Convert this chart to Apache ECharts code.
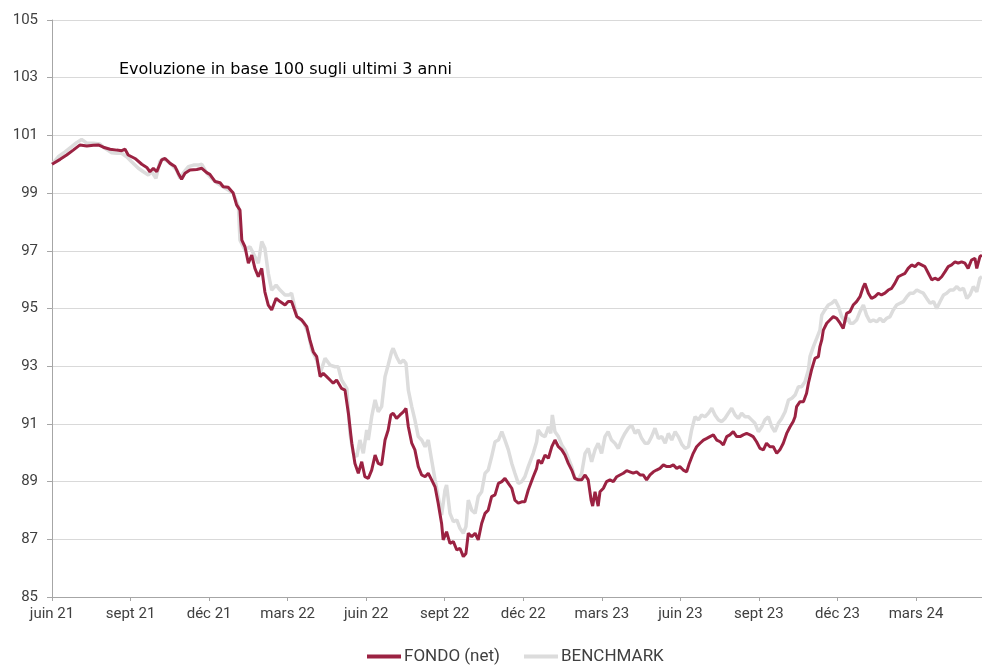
<!DOCTYPE html>
<html><head><meta charset="utf-8">
<script src="https://cdn.jsdelivr.net/npm/echarts@6/dist/echarts.min.js"></script>
<style>html,body{margin:0;padding:0;background:#fff}#c{width:982px;height:666px}</style>
</head><body><div id="c"></div>
<script>
// x = months since June 2021
const tickLabels = ['juin 21','sept 21','déc 21','mars 22','juin 22','sept 22','déc 22','mars 23','juin 23','sept 23','déc 23','mars 24'];
const titleText = 'Evoluzione in base 100 sugli ultimi 3 anni';
const seriesNames = ['FONDO (net)','BENCHMARK'];

const fondoX = [0,0.31,0.56,0.81,1.07,1.33,1.58,1.77,1.96,2.22,2.47,2.66,2.79,2.91,3.17,3.43,3.62,3.74,3.87,4.00,4.19,4.32,4.51,4.70,4.82,4.95,5.08,5.27,5.53,5.72,5.91,6.03,6.23,6.42,6.54,6.73,6.92,7.05,7.18,7.25,7.37,7.50,7.63,7.75,7.88,8.01,8.13,8.26,8.39,8.56,8.71,8.90,9.02,9.15,9.35,9.54,9.73,9.85,9.98,10.11,10.24,10.36,10.49,10.62,10.74,10.87,11.06,11.19,11.32,11.45,11.57,11.70,11.83,11.95,12.08,12.21,12.34,12.46,12.59,12.72,12.84,12.94,13.03,13.16,13.29,13.42,13.52,13.61,13.74,13.86,13.99,14.12,14.25,14.37,14.50,14.63,14.75,14.88,14.94,15.07,15.20,15.33,15.46,15.58,15.71,15.81,15.90,16.03,16.16,16.28,16.41,16.54,16.66,16.79,16.92,17.05,17.18,17.30,17.43,17.56,17.68,17.81,17.94,18.06,18.19,18.38,18.51,18.57,18.70,18.83,18.96,19.09,19.21,19.34,19.47,19.59,19.72,19.85,19.97,20.10,20.23,20.36,20.48,20.59,20.65,20.74,20.86,20.93,21.06,21.18,21.31,21.44,21.57,21.69,21.82,21.95,22.07,22.20,22.33,22.46,22.58,22.71,22.84,22.97,23.09,23.22,23.35,23.48,23.60,23.73,23.86,23.98,24.11,24.24,24.34,24.49,24.62,24.75,24.88,25.01,25.13,25.26,25.39,25.52,25.64,25.77,25.89,26.02,26.15,26.28,26.40,26.53,26.66,26.78,26.91,27.04,27.17,27.29,27.42,27.55,27.68,27.80,27.93,28.06,28.19,28.31,28.38,28.44,28.57,28.70,28.82,28.89,29.01,29.14,29.27,29.33,29.40,29.46,29.59,29.71,29.84,29.97,30.10,30.22,30.35,30.48,30.60,30.73,30.86,30.99,31.05,31.18,31.30,31.43,31.56,31.68,31.81,31.94,32.07,32.19,32.32,32.45,32.58,32.70,32.83,32.96,33.08,33.21,33.34,33.47,33.60,33.72,33.85,33.98,34.11,34.23,34.36,34.49,34.61,34.74,34.87,34.99,35.12,35.25,35.32,35.44,35.52];
const fondoY = [100.0,100.17,100.32,100.49,100.67,100.63,100.66,100.67,100.59,100.52,100.49,100.47,100.52,100.32,100.2,100.0,99.89,99.74,99.86,99.74,100.15,100.2,100.03,99.92,99.69,99.48,99.69,99.8,99.82,99.86,99.71,99.65,99.4,99.36,99.22,99.2,99.0,98.59,98.41,97.37,97.14,96.57,96.85,96.39,96.1,96.39,95.58,95.12,94.95,95.35,95.24,95.12,95.24,95.24,94.72,94.6,94.37,93.91,93.5,93.33,92.64,92.75,92.64,92.52,92.41,92.52,92.23,92.17,91.37,90.33,89.63,89.29,89.69,89.17,89.11,89.4,89.92,89.63,89.58,90.44,90.79,91.31,91.37,91.19,91.31,91.42,91.54,90.9,90.33,90.1,89.52,89.23,89.17,89.29,89.06,88.82,88.25,87.55,86.98,87.26,86.86,86.92,86.63,86.69,86.4,86.51,87.21,87.09,87.21,86.98,87.55,87.9,88.01,88.48,88.54,88.94,89.0,89.11,88.94,88.77,88.36,88.25,88.3,88.3,88.71,89.17,89.46,89.75,89.63,89.92,89.81,90.21,90.44,90.21,90.1,89.92,89.63,89.4,89.11,89.06,89.06,89.23,89.06,88.36,88.15,88.65,88.15,88.65,88.77,89.0,89.06,89.0,89.17,89.23,89.29,89.38,89.34,89.29,89.34,89.23,89.23,89.06,89.23,89.34,89.4,89.46,89.58,89.52,89.52,89.58,89.46,89.52,89.4,89.34,89.63,89.98,90.21,90.33,90.44,90.5,90.56,90.62,90.44,90.38,90.27,90.56,90.62,90.73,90.56,90.56,90.62,90.67,90.62,90.56,90.38,90.15,90.1,90.33,90.21,90.21,89.98,90.1,90.33,90.67,90.9,91.08,91.25,91.6,91.77,91.77,92.06,92.41,92.87,93.27,93.33,93.68,93.91,94.25,94.49,94.6,94.72,94.66,94.49,94.31,94.83,94.89,95.12,95.24,95.41,95.76,95.87,95.53,95.35,95.41,95.53,95.47,95.53,95.64,95.7,95.87,96.1,96.16,96.22,96.39,96.51,96.45,96.57,96.51,96.45,96.22,95.99,96.05,95.99,96.1,96.28,96.45,96.51,96.62,96.57,96.62,96.57,96.39,96.68,96.74,96.39,96.8,96.85];

const benchX = [0,0.24,0.50,0.75,0.94,1.13,1.33,1.58,1.83,2.02,2.28,2.47,2.66,2.85,3.04,3.30,3.49,3.68,3.81,3.97,4.12,4.25,4.44,4.63,4.76,4.89,5.01,5.21,5.40,5.59,5.72,5.91,6.03,6.23,6.42,6.73,6.92,7.12,7.18,7.37,7.56,7.75,7.88,8.01,8.13,8.26,8.39,8.56,8.71,8.90,9.06,9.15,9.35,9.60,9.79,9.92,10.11,10.24,10.43,10.62,10.81,10.93,11.06,11.26,11.38,11.51,11.64,11.76,11.89,12.02,12.08,12.21,12.34,12.46,12.59,12.72,12.84,12.97,13.03,13.16,13.29,13.42,13.52,13.61,13.74,13.86,13.99,14.12,14.25,14.37,14.50,14.63,14.75,14.88,15.01,15.07,15.20,15.33,15.46,15.58,15.71,15.81,15.90,16.03,16.16,16.28,16.41,16.54,16.66,16.79,16.92,17.05,17.18,17.30,17.43,17.56,17.68,17.81,17.94,18.06,18.19,18.38,18.51,18.57,18.70,18.83,18.96,19.05,19.11,19.21,19.34,19.47,19.59,19.72,19.85,19.97,20.10,20.23,20.36,20.48,20.61,20.74,20.86,20.99,21.12,21.24,21.37,21.50,21.63,21.75,21.88,22.01,22.14,22.27,22.39,22.52,22.65,22.77,22.90,23.03,23.16,23.29,23.42,23.54,23.67,23.80,23.92,24.05,24.18,24.31,24.43,24.56,24.69,24.81,24.94,25.07,25.20,25.32,25.45,25.58,25.70,25.83,25.96,26.09,26.21,26.34,26.47,26.60,26.72,26.85,26.98,27.11,27.23,27.36,27.49,27.61,27.74,27.87,28.00,28.13,28.26,28.38,28.51,28.63,28.76,28.89,28.95,29.08,29.21,29.33,29.40,29.52,29.65,29.78,29.91,30.04,30.16,30.29,30.42,30.48,30.60,30.73,30.86,30.99,31.11,31.24,31.37,31.50,31.63,31.75,31.88,32.01,32.13,32.26,32.39,32.52,32.65,32.77,32.90,33.03,33.16,33.28,33.41,33.54,33.67,33.79,33.92,34.05,34.17,34.30,34.43,34.56,34.68,34.81,34.94,35.06,35.19,35.32,35.44,35.52];
const benchY = [100.0,100.26,100.43,100.61,100.75,100.86,100.73,100.73,100.7,100.55,100.4,100.38,100.38,100.26,100.09,99.86,99.74,99.63,99.74,99.51,100.09,100.2,100.09,99.92,99.8,99.51,99.69,99.92,99.97,99.97,100.0,99.69,99.57,99.4,99.28,99.11,99.0,98.53,97.37,97.03,97.14,96.8,96.57,97.32,97.09,96.22,95.64,95.81,95.64,95.47,95.47,95.53,94.72,94.54,94.14,93.56,93.21,92.75,93.27,93.04,92.98,92.98,92.52,92.23,90.67,89.98,89.86,90.44,89.98,90.79,90.44,91.25,91.83,91.42,91.6,92.64,93.04,93.5,93.62,93.33,93.1,93.21,93.1,92.17,91.6,91.14,90.56,90.44,90.21,90.44,89.75,89.06,88.48,87.84,88.71,88.88,87.9,87.61,87.67,87.38,87.21,87.44,88.36,88.01,87.9,88.48,88.65,89.29,89.4,89.86,90.38,90.44,90.73,90.44,90.1,89.63,89.29,88.94,89.0,89.17,89.52,89.98,90.38,90.79,90.62,90.56,90.9,90.67,91.31,90.73,90.56,90.27,90.1,89.81,89.52,89.11,89.06,89.29,89.98,90.15,89.69,90.1,90.33,89.98,90.56,90.73,90.44,90.33,90.15,90.44,90.67,90.85,90.96,90.67,90.79,90.5,90.33,90.33,90.56,90.85,90.5,90.56,90.33,90.67,90.44,90.73,90.56,90.3,90.15,90.21,90.79,91.25,91.14,91.31,91.25,91.37,91.54,91.31,91.14,91.08,91.19,91.37,91.54,91.31,91.19,91.37,91.25,91.25,91.14,91.02,90.73,90.9,91.14,91.25,90.9,90.73,91.02,91.19,91.42,91.83,91.89,92.0,92.29,92.29,92.46,92.87,93.33,93.68,93.97,94.25,94.77,94.95,95.12,95.18,95.29,95.06,94.72,94.54,94.66,94.49,94.49,94.6,94.89,95.12,94.77,94.54,94.6,94.54,94.66,94.54,94.66,94.72,94.95,95.12,95.18,95.24,95.41,95.53,95.53,95.64,95.58,95.53,95.35,95.18,95.24,95.0,95.24,95.47,95.53,95.64,95.64,95.76,95.64,95.7,95.35,95.47,95.76,95.58,96.05,96.1];

const pair = (xs, ys) => xs.map((x, i) => [x, ys[i]]);
const FONT = 'Roboto, "Noto Sans", sans-serif';
const chart = echarts.init(document.getElementById('c'), null, {renderer: 'canvas'});
chart.setOption({
  animation: false,
  backgroundColor: '#ffffff',
  grid: {left: 52, right: 0, top: 20, bottom: 69, containLabel: false},
  graphic: [{type: 'text', left: 119, top: 62, style: {text: titleText, font: '16px "DejaVu Sans", sans-serif', fill: '#000'}}],
  legend: {
    top: 643, left: 362, itemWidth: 34, itemHeight: 4, itemGap: 24, icon: 'rect',
    textStyle: {fontFamily: FONT, fontSize: 17, color: '#404040', padding: [0, 0, 0, -2]},
    data: seriesNames
  },
  xAxis: {
    type: 'value', min: 0, max: 35.52, interval: 3,
    axisLine: {lineStyle: {color: '#a6a6a6', width: 1}},
    axisTick: {show: true, length: 4, lineStyle: {color: '#a6a6a6'}},
    splitLine: {show: false},
    axisLabel: {
      fontFamily: FONT, fontSize: 15, color: '#404040', margin: 10, showMaxLabel: false,
      formatter: v => { const i = Math.round(v / 3); return (Math.abs(v - i * 3) < 1e-6 && i < tickLabels.length) ? tickLabels[i] : ''; }
    }
  },
  yAxis: {
    type: 'value', min: 85, max: 105, interval: 2,
    axisLine: {show: true, lineStyle: {color: '#a6a6a6', width: 1}},
    axisTick: {show: true, length: 5, lineStyle: {color: '#a6a6a6'}},
    splitLine: {lineStyle: {color: '#d9d9d9', width: 1}},
    axisLabel: {fontFamily: FONT, fontSize: 15, color: '#404040', margin: 14}
  },
  series: [
    {name: seriesNames[1], type: 'line', data: pair(benchX, benchY), showSymbol: false, symbol: 'none',
     lineStyle: {color: '#dcdcdc', width: 3.5}, itemStyle: {color: '#dcdcdc'}, z: 2},
    {name: seriesNames[0], type: 'line', data: pair(fondoX, fondoY), showSymbol: false, symbol: 'none',
     lineStyle: {color: '#9b2242', width: 3}, itemStyle: {color: '#9b2242'}, z: 3}
  ]
});
</script></body></html>
